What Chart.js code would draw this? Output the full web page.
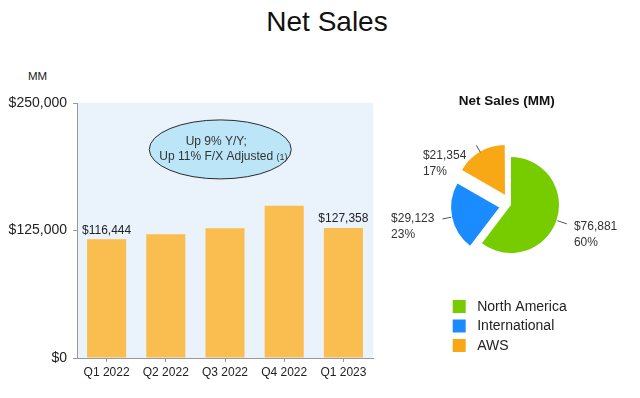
<!DOCTYPE html>
<html><head><meta charset="utf-8">
<script src="https://cdn.jsdelivr.net/npm/chart.js@4"></script>
<style>
html,body{margin:0;padding:0;background:#fff;}
body{width:640px;height:398px;position:relative;overflow:hidden;font-family:"Liberation Sans",Arial,sans-serif;}
#title{position:absolute;left:0;width:654px;top:6px;line-height:32px;text-align:center;font-size:28px;color:#111;}
#mm{position:absolute;left:28px;top:68px;line-height:16px;font-size:11.5px;color:#222;}
#barWrap{position:absolute;left:0;top:0;width:380px;height:398px;}
#pieWrap{position:absolute;left:380px;top:60px;width:260px;height:338px;}
</style></head><body>
<div id="title">Net Sales</div>
<div id="mm">MM</div>
<div id="barWrap"><canvas id="bar"></canvas></div>
<div id="pieWrap"><canvas id="pie"></canvas></div>
<script>
// ---- data ----
const quarters = ['Q1 2022', 'Q2 2022', 'Q3 2022', 'Q4 2022', 'Q1 2023'];
const netSales = [116444, 121234, 127101, 149204, 127358];
const yTicks = [0, 125000, 250000];
const labeledBars = [0, 4];
const calloutLines = ['Up 9% Y/Y;', 'Up 11% F/X Adjusted'];
const calloutNote = '(1)';
const pieTitle = 'Net Sales (MM)';
const segments = ['North America', 'International', 'AWS'];
const segmentSales = [76881, 29123, 21354];
const segmentShare = [60, 23, 17];

const FONT = '"Liberation Sans", Arial, sans-serif';
const TEXT = '#222';
const money = v => '$' + Number(v).toLocaleString('en-US');

// ---- bar chart plugins ----
const plotBg = {
  id: 'plotBg',
  beforeDraw(chart) {
    const {ctx, chartArea: a} = chart;
    ctx.save();
    ctx.fillStyle = '#EAF2FC';
    ctx.fillRect(a.left, a.top, a.right - a.left, a.bottom - a.top);
    ctx.restore();
  }
};
const barLabels = {
  id: 'barLabels',
  afterDatasetsDraw(chart) {
    const {ctx} = chart;
    const meta = chart.getDatasetMeta(0);
    ctx.save();
    ctx.font = '12px ' + FONT;
    ctx.fillStyle = TEXT;
    ctx.textAlign = 'center';
    ctx.textBaseline = 'bottom';
    labeledBars.forEach(i => {
      const el = meta.data[i];
      ctx.fillText(money(netSales[i]), el.x, el.y - 3);
    });
    ctx.restore();
  }
};
const callout = {
  id: 'callout',
  afterDatasetsDraw(chart, args, opts) {
    const {ctx, scales} = chart;
    const cx = scales.x.getPixelForValue(opts.xIndex);
    const cy = scales.y.getPixelForValue(opts.yValue);
    ctx.save();
    ctx.beginPath();
    ctx.ellipse(cx, cy, opts.rx, opts.ry, 0, 0, Math.PI * 2);
    ctx.fillStyle = '#BDE5F8';
    ctx.fill();
    ctx.lineWidth = 1;
    ctx.strokeStyle = '#2b2b2b';
    ctx.stroke();
    ctx.fillStyle = '#333';
    ctx.textBaseline = 'middle';
    ctx.textAlign = 'center';
    ctx.font = '12px ' + FONT;
    const tc = cx + opts.textShift;
    ctx.fillText(calloutLines[0], tc, cy - 8);
    const w1 = ctx.measureText(calloutLines[1]).width;
    const x0 = tc - w1 / 2;
    ctx.textAlign = 'left';
    ctx.fillText(calloutLines[1], x0, cy + 7);
    const ws = ctx.measureText(' ').width;
    ctx.font = '9px ' + FONT;
    ctx.fillText(calloutNote, x0 + w1 + ws, cy + 8);
    ctx.restore();
  }
};

new Chart(document.getElementById('bar'), {
  type: 'bar',
  data: {
    labels: quarters,
    datasets: [{
      data: netSales,
      backgroundColor: '#F9BE4F',
      borderWidth: 0,
      categoryPercentage: 1,
      barPercentage: 0.66
    }]
  },
  options: {
    responsive: true,
    maintainAspectRatio: false,
    animation: false,
    events: [],
    layout: {padding: {left: 0, right: 7, top: 103, bottom: 0}},
    plugins: {
      legend: {display: false},
      tooltip: {enabled: false},
      callout: {xIndex: 1.92, yValue: 204500, rx: 71, ry: 29.5, textShift: -4}
    },
    scales: {
      x: {
        grid: {display: true, offset: false, drawOnChartArea: false, drawTicks: true, tickLength: 4, color: '#9a9a9a'},
        border: {display: true, color: '#9a9a9a'},
        ticks: {font: {size: 12, family: FONT}, color: TEXT, padding: 3, maxRotation: 0, autoSkip: false},
        afterFit: s => { s.height = 40; }
      },
      y: {
        min: 0, max: 250000,
        afterBuildTicks: s => { s.ticks = yTicks.map(v => ({value: v})); },
        grid: {drawOnChartArea: false, drawTicks: true, tickLength: 4, color: '#9a9a9a'},
        border: {display: true, color: '#9a9a9a'},
        ticks: {font: {size: 14, family: FONT}, color: TEXT, padding: 6, callback: v => money(v)},
        afterFit: s => { s.width = 77; }
      }
    }
  },
  plugins: [plotBg, barLabels, callout]
});

// ---- pie chart plugins ----
const pieColors = ['#77CC00', '#1A8CFF', '#F8A815'];
const pieDecor = {
  id: 'pieDecor',
  afterDatasetsDraw(chart, args, opts) {
    const {ctx} = chart;
    const meta = chart.getDatasetMeta(0);
    ctx.save();
    // title
    ctx.font = 'bold 13.5px ' + FONT;
    ctx.fillStyle = '#111';
    ctx.textAlign = 'center';
    ctx.textBaseline = 'middle';
    ctx.fillText(pieTitle, opts.titleX, opts.titleY);
    // leader lines + labels
    ctx.font = '12px ' + FONT;
    meta.data.forEach((arc, i) => {
      const p = arc.getProps(['x', 'y', 'startAngle', 'endAngle', 'outerRadius'], true);
      const mid = (p.startAngle + p.endAngle) / 2;
      const off = (arc.options.offset || 0) / 4;
      const dx = Math.cos(mid), dy = Math.sin(mid);
      const cx = p.x + dx * off, cy = p.y + dy * off;
      const r = p.outerRadius;
      const sx = cx + dx * (r + 1), sy = cy + dy * (r + 1);
      const ex = cx + dx * (r + opts.len[i]), ey = cy + dy * (r + opts.len[i]);
      ctx.beginPath();
      ctx.moveTo(sx, sy);
      ctx.lineTo(ex, ey);
      ctx.strokeStyle = '#555';
      ctx.lineWidth = 1;
      ctx.stroke();
      ctx.fillStyle = '#333';
      ctx.textAlign = 'left';
      const line1 = money(segmentSales[i]);
      const line2 = segmentShare[i] + '%';
      const right = dx >= 0;
      const tx = right ? ex + opts.gap[i] : ex - opts.gap[i] - ctx.measureText(line1).width;
      const ty = ey + opts.dy[i];
      ctx.fillText(line1, tx, ty);
      ctx.fillText(line2, tx, ty + 16);
    });
    // legend
    ctx.font = '14px ' + FONT;
    ctx.textAlign = 'left';
    segments.forEach((s, i) => {
      const y = opts.legendY + i * opts.legendStep;
      ctx.fillStyle = pieColors[i];
      ctx.fillRect(opts.legendX, y - 6.5, 13, 13);
      ctx.fillStyle = '#222';
      ctx.fillText(s, opts.legendX + 24.5, y + 0.5);
    });
    ctx.restore();
  }
};

new Chart(document.getElementById('pie'), {
  type: 'pie',
  data: {
    labels: segments,
    datasets: [{
      data: segmentSales,
      backgroundColor: pieColors,
      borderWidth: 0,
      offset: [0, 48, 48],
      radius: 48
    }]
  },
  options: {
    responsive: true,
    maintainAspectRatio: false,
    animation: false,
    events: [],
    layout: {padding: {left: 81, right: 79, top: 95, bottom: 143}},
    plugins: {
      legend: {display: false},
      tooltip: {enabled: false},
      pieDecor: {
        titleX: 126.7, titleY: 41.7,
        len: [11, 10, 9], gap: [7, 8, 10], dy: [3, 0, 10],
        legendX: 72.7, legendY: 246.5, legendStep: 19.5
      }
    }
  },
  plugins: [pieDecor]
});
</script>
</body></html>
